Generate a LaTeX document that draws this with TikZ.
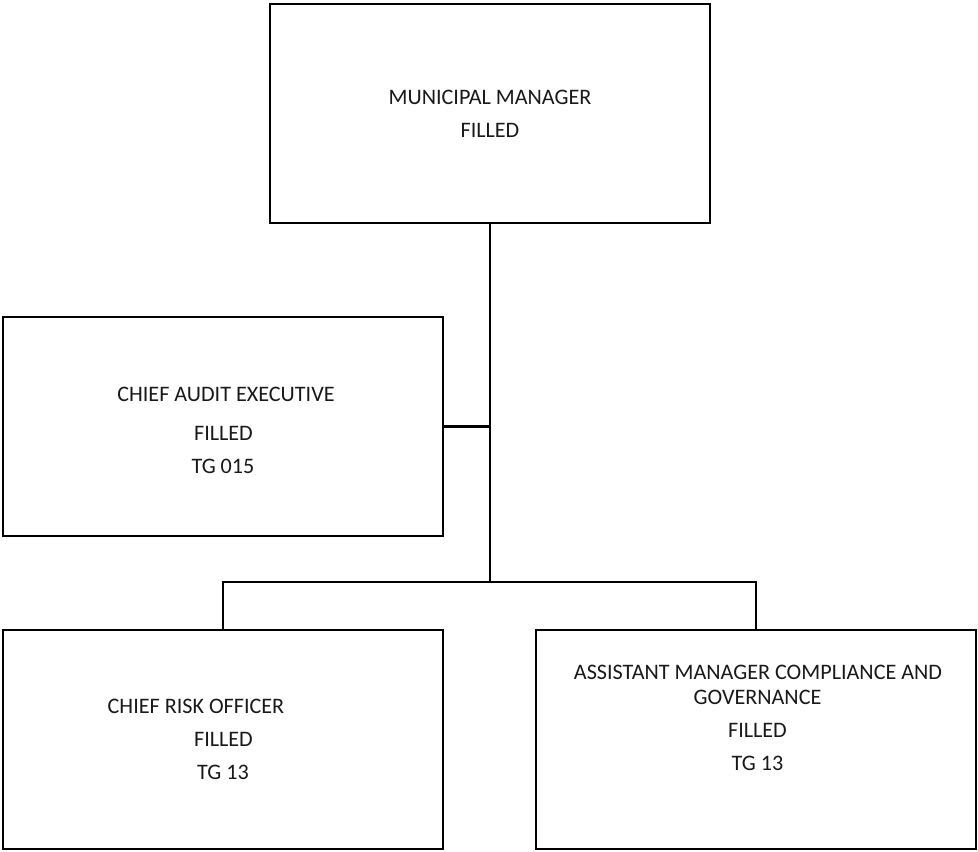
\documentclass[tikz,border=0pt]{standalone}
\usepackage{fontspec}
\setmainfont{Carlito}
\begin{document}
\begin{tikzpicture}[x=0.75pt,y=-0.75pt,
  post/.style={draw=black, line width=1.6pt, fill=white,
    minimum width=330pt, minimum height=164.25pt, inner sep=0pt},
  label/.style={font=\fontsize{16.6}{19}\selectfont, text=black!90, inner sep=0pt, anchor=center},
  conn/.style={draw=black, line width=1.6pt}]
\useasboundingbox (0,0) rectangle (978,851);

% position boxes
\node[post] (mm)   at (490,113.5) {};
\node[post] (cae)  at (223,426.5) {};
\node[post] (cro)  at (223,739.5) {};
\node[post] (amcg) at (756,739.5) {};

% box texts
\node[label] (mm1) at (490,97.5) {MUNICIPAL MANAGER};
\node[label] (mm2) at (490,130.5) {FILLED};

\node[label] (cae1) at (226,394) {CHIEF AUDIT EXECUTIVE};
\node[label] (cae2) at (223.5,433) {FILLED};
\node[label] (cae3) at (223,466) {TG 015};

\node[label] (cro1) at (196,706) {CHIEF RISK OFFICER};
\node[label] (cro2) at (223.5,739) {FILLED};
\node[label] (cro3) at (223,772) {TG 13};

\node[label] (amcg1) at (758,672.5) {ASSISTANT MANAGER COMPLIANCE AND};
\node[label] (amcg2) at (757.5,697) {GOVERNANCE};
\node[label] (amcg3) at (757.5,730) {FILLED};
\node[label] (amcg4) at (757.5,763) {TG 13};

% reporting lines
\coordinate (bus) at (490,582);
\draw[conn] (mm.south) -- (bus);
\draw[conn] (cae.east) -- (cae.east -| mm.south);
\draw[conn] (cro.north) |- (bus) -| (amcg.north);
\end{tikzpicture}
\end{document}
